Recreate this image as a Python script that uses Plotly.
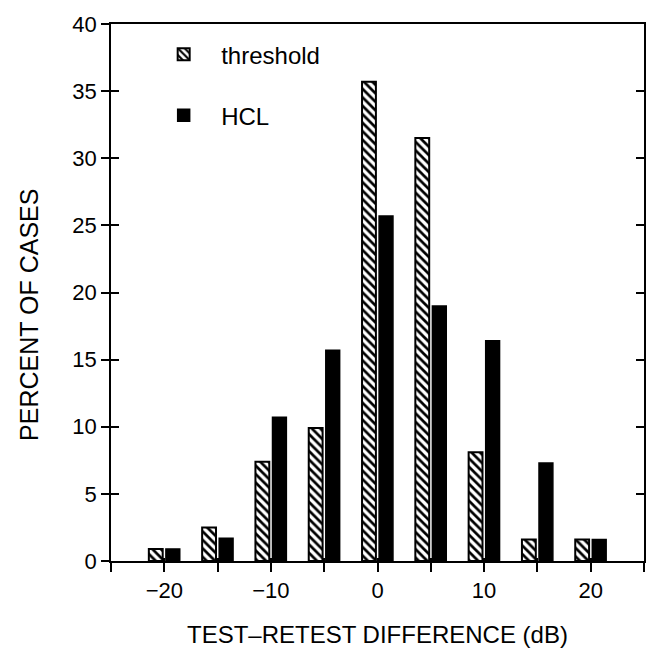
import plotly.graph_objects as go

differences = [-20, -15, -10, -5, 0, 5, 10, 15, 20]
threshold_pct = [0.9, 2.5, 7.4, 9.9, 35.7, 31.5, 8.1, 1.6, 1.6]
hcl_pct = [0.9, 1.7, 10.7, 15.7, 25.7, 19.0, 16.4, 7.3, 1.6]

x_tickvals = [-25, -20, -15, -10, -5, 0, 5, 10, 15, 20, 25]
x_ticktext = ["", "\u221220", "", "\u221210", "", "0", "", "10", "", "20", ""]
y_tickvals = [0, 5, 10, 15, 20, 25, 30, 35, 40]

FONT = "Liberation Sans, Arial, Helvetica, sans-serif"

fig = go.Figure()
fig.add_trace(go.Bar(
    x=differences, y=threshold_pct, name="threshold",
    width=1.3, offset=-1.45,
    marker=dict(color="white", line=dict(color="black", width=2),
                pattern=dict(shape="\\", fillmode="replace", bgcolor="white",
                             fgcolor="black", size=6, solidity=0.45)),
    legendgroup="a",
))
fig.add_trace(go.Bar(
    x=differences, y=hcl_pct, name="HCL",
    width=1.3, offset=0.15,
    marker=dict(color="black", line=dict(color="black", width=1.5)),
    legendgroup="b",
))
# helper trace so the overlay axes (inner half of crossing ticks) are drawn
fig.add_trace(go.Scatter(x=[None], y=[None], xaxis="x2", yaxis="y2",
                         showlegend=False, hoverinfo="skip", mode="markers"))

fig.update_layout(
    width=654, height=649,
    margin=dict(l=103, r=18, t=16, b=96),
    paper_bgcolor="white", plot_bgcolor="white",
    barmode="overlay",
    font=dict(family=FONT, size=22, color="black"),
    showlegend=True,
    legend=dict(x=0.066, y=0.985, xanchor="left", yanchor="top",
                bgcolor="rgba(0,0,0,0)", font=dict(size=24, family=FONT),
                tracegroupgap=27, itemwidth=65),
    annotations=[dict(text="PERCENT OF CASES", textangle=-90,
                      xref="paper", yref="paper", x=-0.155, y=0.459,
                      xanchor="center", yanchor="middle", showarrow=False,
                      font=dict(size=25, family=FONT, color="black"))],
    xaxis=dict(range=[-25, 25], tickvals=x_tickvals, ticktext=x_ticktext,
               ticks="outside", ticklen=9, tickwidth=1.5, tickcolor="black",
               showline=True, linecolor="black", linewidth=1.5, mirror=True,
               showgrid=False, zeroline=False, automargin=False,
               title=dict(text="TEST\u2013RETEST DIFFERENCE (dB)", standoff=24,
                          font=dict(size=24)),
               tickfont=dict(size=22)),
    yaxis=dict(range=[0, 40], tickvals=y_tickvals,
               ticks="outside", ticklen=8, tickwidth=1.5, tickcolor="black",
               showline=True, linecolor="black", linewidth=1.5, mirror="ticks",
               showgrid=False, zeroline=False, automargin=False,
               tickfont=dict(size=22)),
    xaxis2=dict(range=[-25, 25], tickvals=x_tickvals, overlaying="x", anchor="y2",
                ticks="inside", ticklen=3, tickwidth=1.5, tickcolor="black",
                showticklabels=False, showline=False, showgrid=False,
                zeroline=False, automargin=False),
    yaxis2=dict(range=[0, 40], tickvals=y_tickvals, overlaying="y", anchor="x2",
                ticks="inside", ticklen=8, tickwidth=1.5, tickcolor="black",
                mirror="ticks", showticklabels=False, showline=False,
                showgrid=False, zeroline=False, automargin=False),
)

fig.write_html("out.html")
